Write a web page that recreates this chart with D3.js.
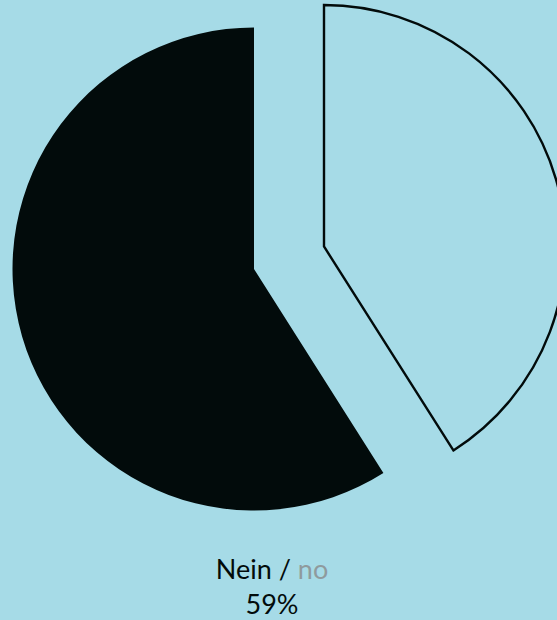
<!DOCTYPE html>
<html>
<head>
<meta charset="utf-8">
<script src="https://cdn.jsdelivr.net/npm/d3@7"></script>
<style>
  html, body { margin: 0; padding: 0; background: #a6dbe7; }
  svg { display: block; }
</style>
</head>
<body>
<div id="chart"></div>
<script>
'use strict';

var categories = ['Ja', 'Nein'];
var values = [41, 59];
var labelMain = 'Nein';
var labelAlt = 'no';
var labelValue = '59%';

var width = 557, height = 620;
var radius = 241.5;
var center = { x: 254, y: 269 };
var explode = { dx: 70, dy: -22.5 };

var svg = d3.select('#chart').append('svg')
  .attr('width', width)
  .attr('height', height);

svg.append('rect')
  .attr('width', width)
  .attr('height', height)
  .attr('fill', '#a6dbe7');

var pie = d3.pie().sort(null).value(function(d) { return d.value; });
var arc = d3.arc().innerRadius(0).outerRadius(radius);

var data = categories.map(function(c, i) {
  return { key: c, value: values[i] };
});

var g = svg.append('g')
  .attr('transform', 'translate(' + center.x + ',' + center.y + ')');

g.selectAll('path')
  .data(pie(data))
  .enter().append('path')
  .attr('d', arc)
  .attr('transform', function(d) {
    return d.data.key === 'Ja' ? 'translate(' + explode.dx + ',' + explode.dy + ')' : null;
  })
  .attr('fill', function(d) { return d.data.key === 'Nein' ? '#020b0b' : 'none'; })
  .attr('stroke', function(d) { return d.data.key === 'Nein' ? 'none' : '#020b0b'; })
  .attr('stroke-width', 2.4)
  .attr('stroke-linejoin', 'miter');

var label = svg.append('g')
  .attr('font-family', 'Lato, sans-serif')
  .attr('font-size', 27)
  .attr('text-anchor', 'middle');

var t1 = label.append('text')
  .attr('x', 272)
  .attr('y', 579)
  .attr('fill', '#020b0b');
t1.append('tspan').text(labelMain + ' / ');
t1.append('tspan').attr('fill', '#8f9a9d').text(labelAlt);

label.append('text')
  .attr('x', 272)
  .attr('y', 614)
  .attr('fill', '#020b0b')
  .text(labelValue);
</script>
</body>
</html>
